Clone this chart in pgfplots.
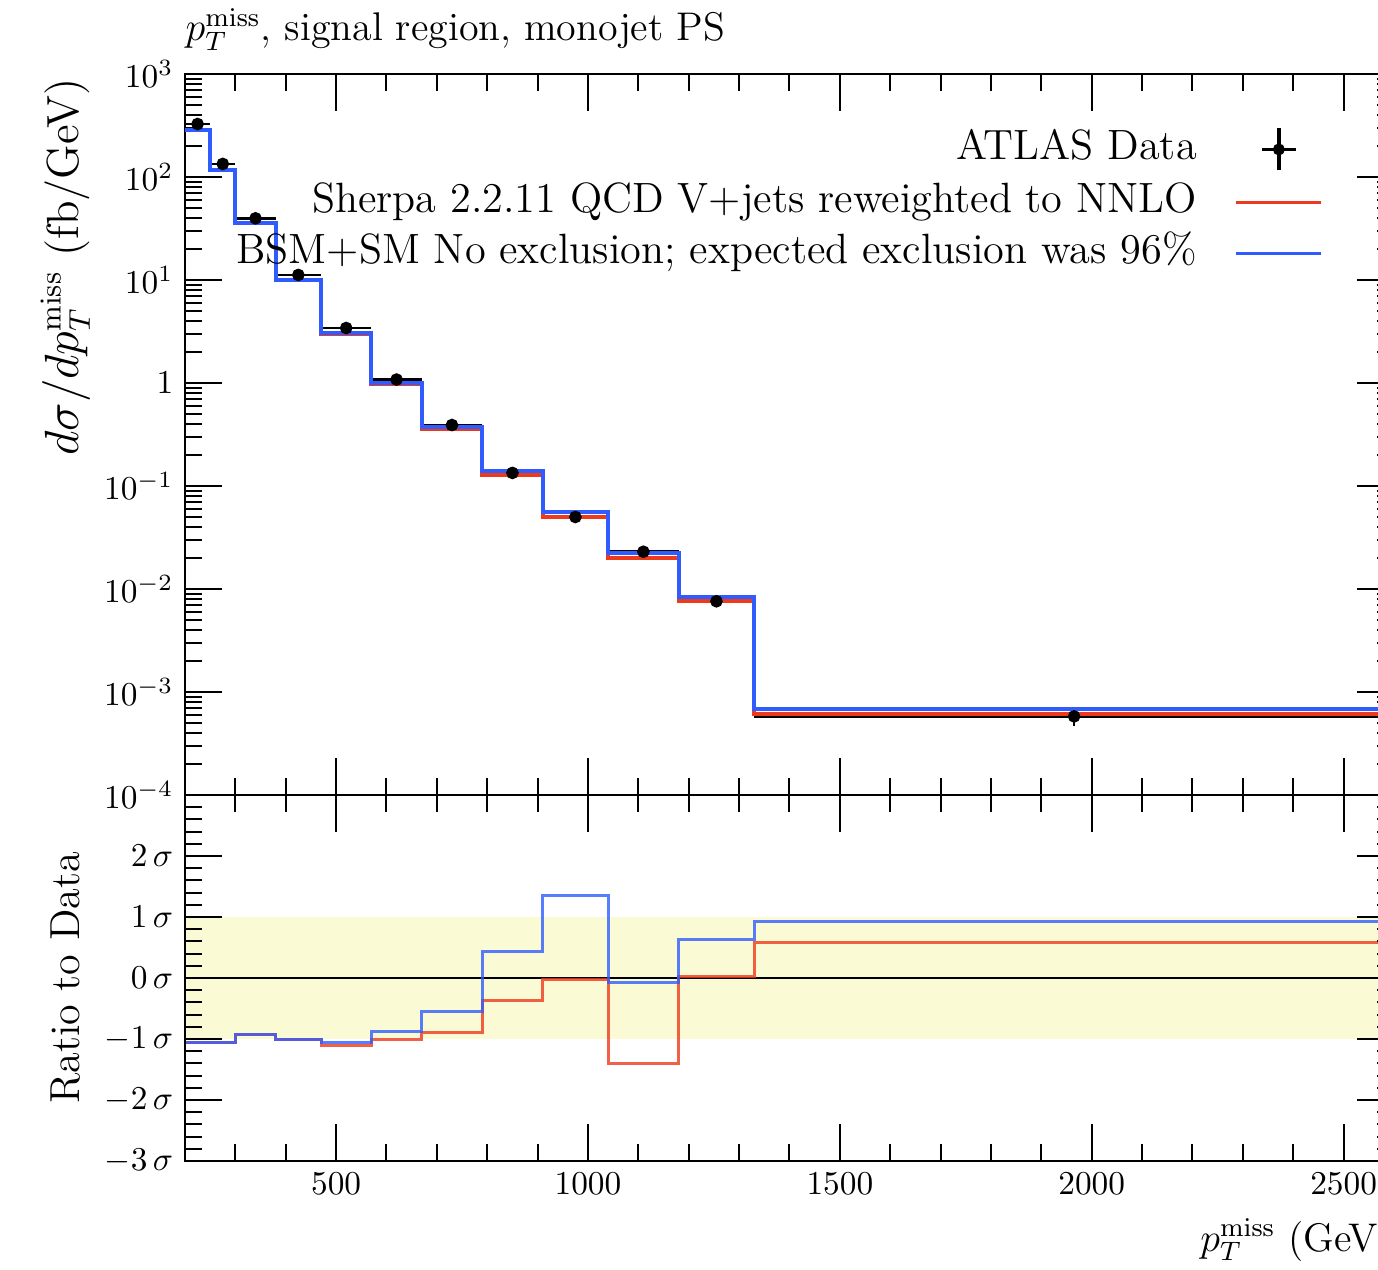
\documentclass[border=0pt]{standalone}
\usepackage{pgfplots}
\usepackage{pgfplotstable}
\pgfplotsset{compat=1.18}

\definecolor{mcred}{RGB}{238,58,28}
\definecolor{mcblue}{RGB}{48,92,255}
\definecolor{bandyellow}{RGB}{250,250,212}

% ATLAS data: bin centre, value, half bin width, uncertainty
\pgfplotstableread{
x      y        ex    ey
225    327      25    26
275    134      25    11
340    39.7     40    3.2
425    11.2     45    0.9
520    3.42     50    0.28
620    1.08     50    0.09
730    0.391    60    0.032
850    0.134    60    0.011
975    0.050    65    0.0042
1110   0.0230   70    0.002
1255   0.0076   75    0.0008
1965   5.8e-4   635   1.1e-4
}\datatable

% predictions at the left bin edges; the last row closes the final bin
\pgfplotstableread{
edge   sherpa    bsm
200    288       288
250    117       117
300    35.5      35.5
380    10.1      10.1
470    2.98      3.06
570    0.97      1.0
670    0.36      0.375
790    0.128     0.140
910    0.050     0.056
1040   0.0199    0.0225
1180   0.0077    0.0083
1330   6.1e-4    6.9e-4
2600   6.1e-4    6.9e-4
}\predtable

% deviation from data in units of the data uncertainty
\pgfplotstableread{
edge   sherpa   bsm
200    -1.05    -1.05
250    -1.05    -1.05
300    -0.93    -0.93
380    -1.00    -1.00
470    -1.10    -1.05
570    -1.00    -0.87
670    -0.89    -0.545
790    -0.37     0.436
910    -0.02     1.357
1040   -1.40    -0.08
1180    0.03     0.63
1330    0.59     0.92
2600    0.59     0.92
}\pulltable

\pgfplotsset{
  rivet/.style={
    scale only axis, width=362.7pt, xmin=200, xmax=2600,
    axis line style={line width=0.8pt},
    tick align=inside,
    major tick length=11pt, minor tick length=5pt,
    every tick/.style={black, line width=0.6pt},
    xtick={500,1000,...,2500},
    minor xtick={200,300,...,2600},
    tick label style={font=\fontsize{10}{12}\selectfont},
    label style={font=\fontsize{12}{14}\selectfont},
    /pgf/number format/1000 sep={},
    scaled x ticks=false,
  }
}

\begin{document}
\begin{tikzpicture}
\begin{axis}[rivet, name=top, at={(0,0)}, anchor=south west,
  height=216.3pt,
  ymode=log, ymin=1e-4, ymax=1e3,
  ytick={1e-4,1e-3,0.01,0.1,1,10,100,1000},
  yticklabels={$10^{-4}$,$10^{-3}$,$10^{-2}$,$10^{-1}$,$1$,$10^{1}$,$10^{2}$,$10^{3}$},
  xticklabels={},
  ylabel={$d\sigma/dp_T^{\rm miss}$ (fb/GeV)},
  ylabel style={at={(axis description cs:-0.099,1.01)}, anchor=east,
    font=\fontsize{13.5}{15}\selectfont},
  title={$p_T^{\rm miss}$, signal region, monojet PS},
  title style={at={(axis description cs:0,1)}, anchor=base west, yshift=4pt,
    inner sep=0pt, font=\fontsize{12}{14}\selectfont},
  legend cell align=right, legend plot pos=right,
  legend style={draw=none, fill=none, at={(0.950,0.937)}, anchor=north east,
    font=\fontsize{12.7}{14}\selectfont,
    nodes={inner sep=0pt, text height=9pt, text depth=3pt},
    row sep=3.2pt,
    /tikz/every odd column/.style={column sep=11.4pt}},
]
\addlegendimage{legend image code/.code={
  \draw[black, line width=1pt] (7.65pt,0pt) -- (17.85pt,0pt)
                               (12.75pt,-6.3pt) -- (12.75pt,6.3pt);
  \fill[black] (12.75pt,0pt) circle (1.6pt);}}
\addlegendentry{ATLAS Data}

% data underneath the predictions
\addplot[forget plot, only marks, mark=*, mark size=1.7pt, black,
  error bars/.cd, x dir=both, x explicit, y dir=both, y explicit,
  error bar style={line width=0.8pt, black}, error mark=none]
  table[x=x, y=y, x error=ex, y error=ey] {\datatable};

\addplot[const plot, mcred, line width=1.2pt,
  legend image code/.code={\draw[mcred, line width=0.9pt] (0pt,0pt) -- (25.5pt,0pt);}]
  table[x=edge, y=sherpa] {\predtable};
\addlegendentry{Sherpa 2.2.11 QCD V+jets reweighted to NNLO}

\addplot[const plot, mcblue, line width=1.2pt,
  legend image code/.code={\draw[mcblue, line width=0.9pt] (0pt,0pt) -- (25.5pt,0pt);}]
  table[x=edge, y=bsm] {\predtable};
\addlegendentry{BSM+SM No exclusion; expected exclusion was 96\%}
\end{axis}

\begin{axis}[rivet, at={(top.south west)}, anchor=north west,
  height=109.8pt, ymin=-3, ymax=3,
  ytick={-3,-2,-1,0,1,2,3},
  yticklabels={$-3\,\sigma$,$-2\,\sigma$,$-1\,\sigma$,$0\,\sigma$,$1\,\sigma$,$2\,\sigma$,{}},
  minor ytick={-2.8,-2.6,...,2.9},
  axis on top,
  xlabel={$p_T^{\rm miss}$ (GeV)},
  xlabel style={at={(axis description cs:1,0)}, anchor=base east, yshift=-27pt, inner sep=0pt},
  ylabel={Ratio to Data},
  ylabel style={at={(axis description cs:-0.099,0.5)}, anchor=center,
    font=\fontsize{12.6}{14}\selectfont},
]
\addplot[draw=none, fill=bandyellow] coordinates {(200,-1) (2600,-1) (2600,1) (200,1)} -- cycle;
\addplot[black, line width=0.8pt] coordinates {(200,0) (2600,0)};
\addplot[const plot, mcred, opacity=0.8, line width=0.9pt] table[x=edge, y=sherpa] {\pulltable};
\addplot[const plot, mcblue, opacity=0.8, line width=0.9pt] table[x=edge, y=bsm] {\pulltable};
\end{axis}

\pgfresetboundingbox
\useasboundingbox (-55.5pt,-142.5pt) rectangle (357.9pt,238.5pt);
\end{tikzpicture}
\end{document}
